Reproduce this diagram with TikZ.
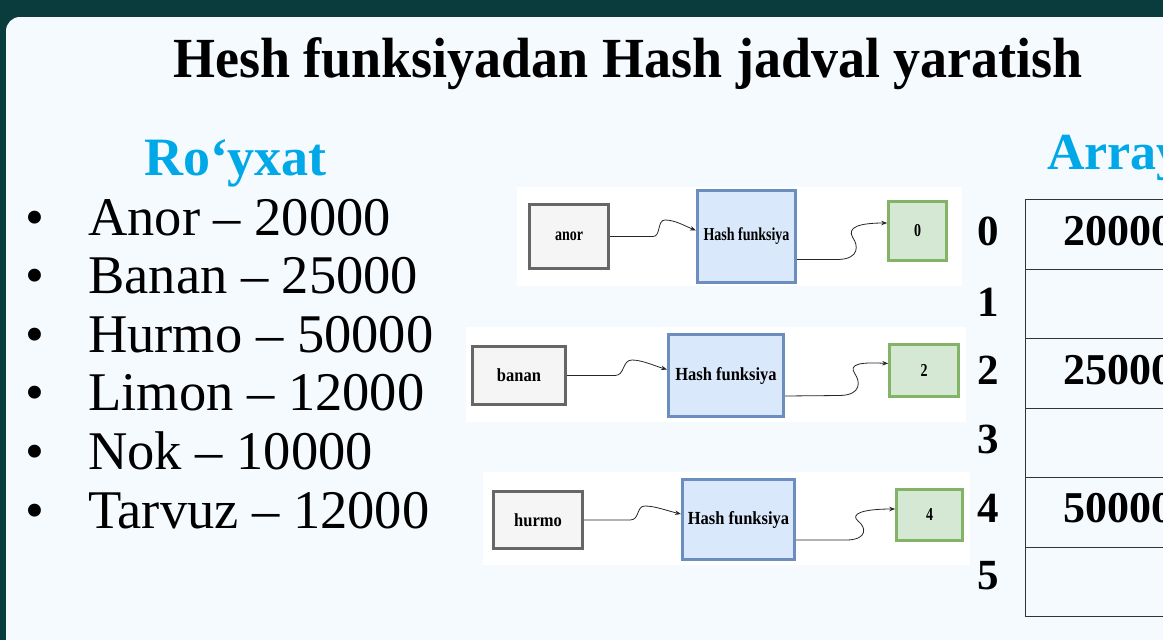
\documentclass[tikz,border=0pt]{standalone}
\usepackage{fontspec}
\usepackage{graphicx}
\setmainfont{Liberation Serif}
\usetikzlibrary{arrows.meta}
\definecolor{darkbg}{RGB}{11,60,61}
\definecolor{slidebg}{RGB}{245,250,255}
\definecolor{headblue}{RGB}{0,168,232}
\definecolor{grayfill}{HTML}{F5F5F5}
\definecolor{grayline}{HTML}{666666}
\definecolor{bluefill}{HTML}{DAE8FC}
\definecolor{blueline}{HTML}{6C8EBF}
\definecolor{greenfill}{HTML}{D5E8D4}
\definecolor{greenline}{HTML}{82B366}
\newcommand\smallA[1]{\scalebox{1}[1.3]{\fontsize{14}{14}\selectfont\bfseries #1}}
\newcommand\smallB[1]{\scalebox{1}[1.12]{\fontsize{16.5}{16.5}\selectfont\bfseries #1}}
\begin{document}
\begin{tikzpicture}[x=1pt,y=-1pt,
  panel/.style={fill=white, draw=none, inner sep=0},
  graybox/.style={draw=grayline, fill=grayfill, line width=3pt, inner sep=0},
  hashbox/.style={draw=blueline, fill=bluefill, line width=3pt, inner sep=0},
  keybox/.style={draw=greenline, fill=greenfill, line width=2.6pt, inner sep=0},
  conn/.style={draw=black!85, line width=0.8pt, -{Stealth[length=6pt,width=4.5pt]}},
  cell/.style={draw=black!80, line width=1.2pt, minimum width=220pt, minimum height=69.5pt, inner sep=0, anchor=north west},
  idx/.style={font=\fontsize{43}{43}\selectfont\bfseries, inner sep=0, anchor=base},
  val/.style={font=\fontsize{44}{44}\selectfont\bfseries, inner sep=0, anchor=base west},
  item/.style={font=\fontsize{54.5}{54.5}\selectfont, inner sep=0, anchor=base west},
  bul/.style={font=\fontsize{54}{54}\selectfont, inner sep=0, anchor=base}
]
\useasboundingbox (0,0) rectangle (1163,640);
\clip (0,0) rectangle (1163,640);
\fill[darkbg] (0,0) rectangle (1163,640);
\fill[slidebg, rounded corners=14pt] (6,17) rectangle (1220,700);

% title
\node[inner sep=0, anchor=base, font=\fontsize{54}{54}\selectfont\bfseries] (title) at (628,77) {\scalebox{1}[1.05]{Hesh funksiyadan Hash jadval yaratish}};

% list
\node[inner sep=0, anchor=base, text=headblue, font=\fontsize{54}{54}\selectfont\bfseries] (roy) at (235.5,175) {Ro‘yxat};
\foreach \i/\t/\yy in {1/Anor – 20000/235, 2/Banan – 25000/293, 3/Hurmo – 50000/352, 4/Limon – 12000/410, 5/Nok – 10000/469, 6/Tarvuz – 12000/528}{
  \node[bul] (b\i) at (35,\yy) {•};
  \node[item] (it\i) at (88,\yy) {\t};
}

% panels
\node[panel, minimum width=445pt, minimum height=99pt] (p1) at (739.5,236.5) {};
\node[panel, minimum width=500pt, minimum height=95pt] (p2) at (716,374.5) {};
\node[panel, minimum width=487pt, minimum height=93pt] (p3) at (726.5,518.5) {};

% panel 1
\node[graybox, minimum width=79pt, minimum height=64pt] (a1) at (569,236.5) {\smallA{anor}};
\node[hashbox, minimum width=98pt, minimum height=92pt] (h1) at (746.5,236.5) {\smallA{Hash funksiya}};
\node[keybox, minimum width=58pt, minimum height=59pt] (k1) at (917.5,231) {\smallA{0}};
\draw[conn] (a1.east) -- (653,236.5) .. controls (661,236.5) and (657,220) .. (665,220) .. controls (675,220) and (685,226) .. ([yshift=6pt]h1.west);
\draw[conn] ([yshift=-23pt]h1.east) -- (838,259.5) .. controls (860,259) and (858,245) .. (853,238) .. controls (846,227) and (860,223) .. ([yshift=8pt]k1.west);

% panel 2
\node[graybox, minimum width=93pt, minimum height=58pt] (a2) at (519,375.5) {\smallB{banan}};
\node[hashbox, minimum width=115pt, minimum height=82pt] (h2) at (726,375.5) {\smallB{Hash funksiya}};
\node[keybox, minimum width=69pt, minimum height=52pt] (k2) at (924,370.5) {\smallA{2}};
\draw[conn] (a2.east) -- (615,375.5) .. controls (625,375.5) and (622,360) .. (632,360) .. controls (642,360) and (655,366) .. ([yshift=6pt]h2.west);
\draw[conn] ([yshift=-20.5pt]h2.east) -- (840,395.5) .. controls (862,395) and (860,381) .. (855,374) .. controls (848,364) and (860,362) .. ([yshift=7pt]k2.west);

% panel 3
\node[graybox, minimum width=89pt, minimum height=57pt] (a3) at (538,520) {\smallB{hurmo}};
\node[hashbox, minimum width=112pt, minimum height=80pt] (h3) at (738.5,519.5) {\smallB{Hash funksiya}};
\node[keybox, minimum width=66pt, minimum height=51pt] (k3) at (929.5,515) {\smallA{4}};
\draw[conn] (a3.east) -- (630,520) .. controls (640,520) and (636,506) .. (645,506) .. controls (655,506) and (668,511) .. ([yshift=5.5pt]h3.west);
\draw[conn] ([yshift=-20.5pt]h3.east) -- (848,540) .. controls (868,539) and (866,527) .. (858,521) .. controls (850,514) and (862,509) .. ([yshift=6pt]k3.west);

% array
\node[inner sep=0, anchor=base west, text=headblue, font=\fontsize{52}{52}\selectfont\bfseries] (arr) at (1047,169) {Array};
\foreach \r/\yt in {0/199,1/268.5,2/338,3/407.5,4/477,5/546.5}{
  \node[cell] (c\r) at (1025,\yt) {};
}
\foreach \r/\yb in {0/245,1/316,2/384,3/453,4/522,5/589}{
  \node[idx] (i\r) at (988,\yb) {\r};
}
\node[val] (v0) at (1063,245) {20000};
\node[val] (v2) at (1063,384) {25000};
\node[val] (v4) at (1063,522) {50000};
\end{tikzpicture}
\end{document}
